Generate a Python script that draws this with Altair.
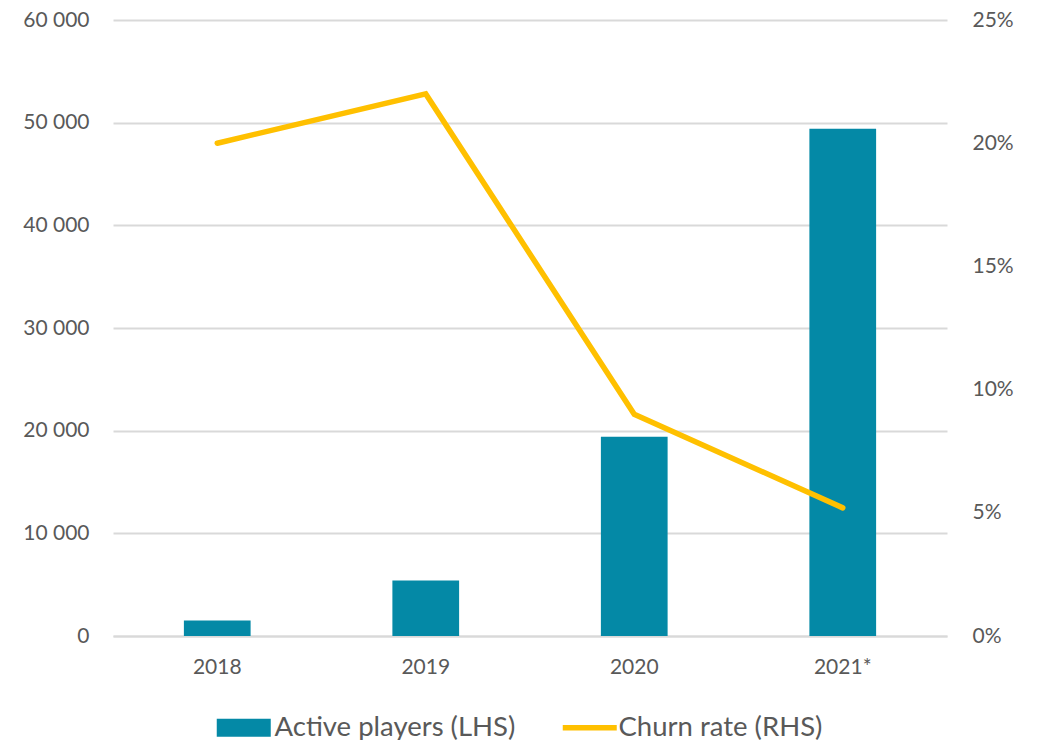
import altair as alt
import pandas as pd

years = ["2018", "2019", "2020", "2021*"]
active_players = [1500, 5400, 19400, 49400]
churn_rate = [0.200, 0.220, 0.090, 0.052]

df = pd.DataFrame({
    "year": years,
    "players": active_players,
    "churn": churn_rate,
    "s1": ["Active players (LHS)"] * 4,
    "s2": ["Churn rate (RHS)"] * 4,
})

FONT = "Lato"
GRAY = "#595959"
BAR = "#0489A6"
GOLD = "#FFC000"

x = alt.X("year:N", sort=years, title=None,
          scale=alt.Scale(paddingInner=0.68, paddingOuter=0.34),
          axis=alt.Axis(labelAngle=0, labelFontSize=21, labelColor=GRAY, labelFont=FONT,
                        ticks=False, domain=True, domainColor="#d9d9d9", domainWidth=2,
                        grid=False, labelPadding=20))

bars = alt.Chart(df).mark_bar(color=BAR).encode(
    x=x,
    y=alt.Y("players:Q", title=None,
            scale=alt.Scale(domain=[0, 60000], nice=False),
            axis=alt.Axis(values=[0, 10000, 20000, 30000, 40000, 50000, 60000],
                          labelExpr="replace(format(datum.value, ',d'), ',', ' ')",
                          labelFontSize=21, labelColor=GRAY, labelFont=FONT,
                          ticks=False, domain=False, labelPadding=24,
                          grid=True, gridColor="#d9d9d9", gridWidth=2)),
    color=alt.Color("s1:N", title=None,
                    scale=alt.Scale(range=[BAR]),
                    legend=alt.Legend(orient="none", legendX=117, legendY=694,
                                      symbolType="M-3,-1H3V1H-3Z", symbolSize=324,
                                      symbolStrokeWidth=0, symbolOpacity=1,
                                      symbolFillColor=BAR,
                                      labelFontSize=27.5, labelColor=GRAY, labelFont=FONT,
                                      labelLimit=500, labelOffset=17, padding=0)),
)

line = alt.Chart(df).mark_line(strokeWidth=5.5, strokeCap="round", color=GOLD).encode(
    x=x,
    y=alt.Y("churn:Q", title=None,
            scale=alt.Scale(domain=[0, 0.25], nice=False),
            axis=alt.Axis(orient="right", values=[0, 0.05, 0.10, 0.15, 0.20, 0.25],
                          format=".0%", labelFontSize=21, labelColor=GRAY, labelFont=FONT,
                          ticks=False, domain=False, grid=False, labelPadding=25)),
    stroke=alt.Stroke("s2:N", title=None,
                      scale=alt.Scale(range=[GOLD]),
                      legend=alt.Legend(orient="none", legendX=463, legendY=694,
                                        symbolType="M-3,0H3", symbolSize=324,
                                        symbolStrokeWidth=5.5, symbolStrokeColor=GOLD,
                                        symbolOpacity=1,
                                        labelFontSize=27.5, labelColor=GRAY, labelFont=FONT,
                                        labelLimit=500, labelOffset=15, padding=0)),
)

chart = alt.layer(bars, line).resolve_scale(y="independent", color="independent").properties(
    width=834, height=616,
    autosize=alt.AutoSizeParams(type="none"),
    padding={"left": 105, "top": 12, "right": 86, "bottom": 104},
).configure(font=FONT, view=alt.ViewConfig(stroke=None))

chart.save("out.html", embed_options={"renderer": "svg", "actions": False})
